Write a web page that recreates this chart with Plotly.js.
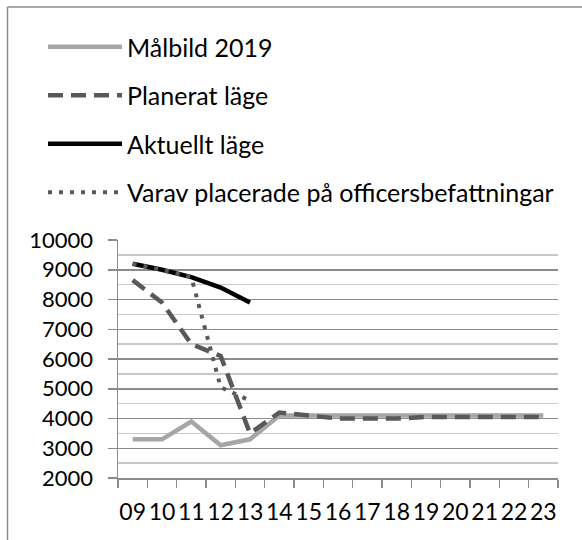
<!DOCTYPE html>
<html>
<head>
<meta charset="utf-8">
<script src="https://cdn.plot.ly/plotly-3.0.1.min.js"></script>
<style>
  html, body { margin: 0; padding: 0; background: #fff; }
  #chart { width: 582px; height: 540px; }
</style>
</head>
<body>
<div id="chart"></div>
<script>
// Data
const years = ['09','10','11','12','13','14','15','16','17','18','19','20','21','22','23'];
const malbild2019 = [3300,3300,3900,3100,3300,4100,4100,4100,4100,4100,4100,4100,4100,4100,4100];
const planeratLage = [8650,7900,6500,6100,3500,4200,4100,4000,4000,4000,4050,4050,4050,4050,4050];
const aktuelltLage = [9200,9000,8750,8400,7900,null,null,null,null,null,null,null,null,null,null];
const varavPlacerade = [9200,9000,8750,5050,4600,null,null,null,null,null,null,null,null,null,null];
const seriesNames = ['Målbild 2019','Planerat läge','Aktuellt läge','Varav placerade på officersbefattningar'];

const FONT = 'Lato, "Open Sans", sans-serif';

const traces = [
  {x: years, y: malbild2019, name: seriesNames[0], legendgroup: 'a', mode: 'lines',
   line: {color: '#a6a6a6', width: 4.5}},
  {x: years, y: planeratLage, name: seriesNames[1], legendgroup: 'b', mode: 'lines',
   line: {color: '#595959', width: 4.5, dash: '15px,8px'}},
  {x: years, y: aktuelltLage, name: seriesNames[2], legendgroup: 'c', mode: 'lines',
   line: {color: '#000000', width: 4.5}},
  {x: years, y: varavPlacerade, name: seriesNames[3], legendgroup: 'd', mode: 'lines',
   line: {color: '#595959', width: 4, dash: '4px,7px'}}
];

const L = 118, R = 558, T = 240, B = 478;
const px2x = p => (p - L) / (R - L);
const px2y = p => (B - p) / (B - T);

const layout = {
  width: 582, height: 540,
  margin: {l: L, r: 582 - R, t: T, b: 540 - B, pad: 0},
  paper_bgcolor: '#ffffff', plot_bgcolor: '#ffffff',
  font: {family: FONT, size: 22, color: '#000000'},
  showlegend: true,
  legend: {
    x: px2x(43), y: px2y(24), xanchor: 'left', yanchor: 'top',
    orientation: 'v', itemwidth: 74, tracegroupgap: 13,
    font: {family: FONT, size: 25, color: '#000000'},
    bgcolor: 'rgba(0,0,0,0)', borderwidth: 0, itemclick: false
  },
  xaxis: {
    type: 'category', range: [-0.5, 14.5], fixedrange: true,
    showgrid: false, zeroline: false,
    showline: true, linecolor: '#8c8c8c', linewidth: 1.5,
    ticks: 'outside', tickson: 'boundaries', ticklen: 8, tickcolor: '#8c8c8c', tickwidth: 1.5,
    tickfont: {family: FONT, size: 23, color: '#000000'},
    tickangle: 0, ticklabelstandoff: 13
  },
  yaxis: {
    range: [2000, 10000], dtick: 1000, tick0: 0, fixedrange: true, tickformat: 'd',
    showgrid: true, gridcolor: '#8c8c8c', gridwidth: 1.5,
    zeroline: false, showline: true, linecolor: '#8c8c8c', linewidth: 1.5,
    ticks: 'outside', ticklen: 9, tickcolor: '#8c8c8c', tickwidth: 1.5,
    tickfont: {family: FONT, size: 22, color: '#000000'},
    ticklabelstandoff: 10,
    minor: {dtick: 500, showgrid: true, gridcolor: '#c8c8c8', gridwidth: 1.5, ticks: ''}
  },
  shapes: [
    {type: 'line', xref: 'paper', yref: 'paper', x0: px2x(7.5), x1: px2x(600), y0: px2y(7), y1: px2y(7),
     line: {color: '#8c8c8c', width: 1.5}},
    {type: 'line', xref: 'paper', yref: 'paper', x0: px2x(7.5), x1: px2x(7.5), y0: px2y(7), y1: px2y(560),
     line: {color: '#8c8c8c', width: 1.5}}
  ]
};

Plotly.newPlot('chart', traces, layout, {staticPlot: true, displayModeBar: false});
</script>
</body>
</html>
